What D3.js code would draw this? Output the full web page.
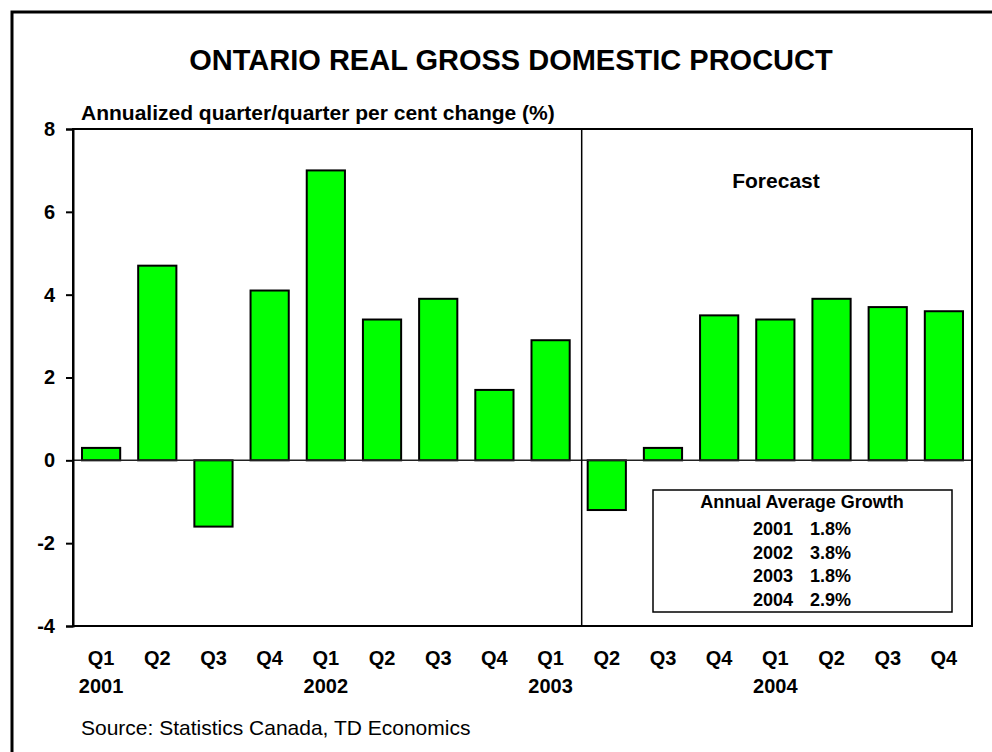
<!DOCTYPE html>
<html><head><meta charset="utf-8">
<script src="https://cdn.jsdelivr.net/npm/d3@7"></script>
<style>
html,body{margin:0;padding:0;background:#fff;}
svg text{font-family:"Liberation Sans",Arial,sans-serif;fill:#000;}
</style></head>
<body>
<svg id="chart" width="992" height="752"></svg>
<script>
const categories = ["Q1","Q2","Q3","Q4","Q1","Q2","Q3","Q4","Q1","Q2","Q3","Q4","Q1","Q2","Q3","Q4"];
const years = ["2001","","","","2002","","","","2003","","","","2004","","",""];
const values = [0.3,4.7,-1.6,4.1,7.0,3.4,3.9,1.7,2.9,-1.2,0.3,3.5,3.4,3.9,3.7,3.6];
const yTicks = [-4,-2,0,2,4,6,8];
const annualYears = ["2001","2002","2003","2004"];
const annualGrowth = ["1.8%","3.8%","1.8%","2.9%"];
const forecastStart = 9;

const svg = d3.select("#chart");
const margin = {left:73, top:129, right:972, bottom:626};

// outer frame
svg.append("rect").attr("x",12).attr("y",12).attr("width",1000).attr("height",800)
  .attr("fill","none").attr("stroke","#000").attr("stroke-width",3);

const x = d3.scaleBand().domain(d3.range(categories.length))
  .range([margin.left, margin.right]).paddingInner(0.32).paddingOuter(0.16);
const y = d3.scaleLinear().domain([-4,8]).range([margin.bottom, margin.top]);

// title
svg.append("text").attr("x",511).attr("y",70).attr("text-anchor","middle")
  .style("font-size","29px").style("font-weight","bold").text("ONTARIO REAL GROSS DOMESTIC PROCUCT");
svg.append("text").attr("x",81).attr("y",120)
  .style("font-size","21px").style("font-weight","bold").text("Annualized quarter/quarter per cent change (%)");

// bars
svg.append("g").selectAll("rect").data(values).join("rect")
  .attr("x",(d,i)=>x(i))
  .attr("width",x.bandwidth())
  .attr("y",d=>y(Math.max(0,d)))
  .attr("height",d=>Math.abs(y(d)-y(0)))
  .attr("fill","#00ff00").attr("stroke","#000").attr("stroke-width",2);

// zero line
svg.append("line").attr("x1",margin.left).attr("x2",margin.right)
  .attr("y1",y(0)).attr("y2",y(0)).attr("stroke","#222").attr("stroke-width",1.5);

// separator
const sepX = margin.left + x.step()*forecastStart + 3;
svg.append("line").attr("x1",sepX).attr("x2",sepX).attr("y1",margin.top).attr("y2",margin.bottom)
  .attr("stroke","#000").attr("stroke-width",1.5);

// plot frame
svg.append("rect").attr("x",margin.left).attr("y",margin.top)
  .attr("width",margin.right-margin.left).attr("height",margin.bottom-margin.top)
  .attr("fill","none").attr("stroke","#000").attr("stroke-width",2);

// y axis
const yAxis = d3.axisLeft(y).tickValues(yTicks).tickSize(7).tickPadding(11).tickFormat(d3.format("d"));
const ya = svg.append("g").attr("transform",`translate(${margin.left},0)`).call(yAxis);
ya.select(".domain").attr("stroke","#000").attr("stroke-width",2);
ya.selectAll(".tick line").attr("stroke","#000").attr("stroke-width",2);
ya.selectAll(".tick text").style("font-size","20px").style("font-weight","bold")
  .style("font-family","'Liberation Sans',Arial,sans-serif").attr("fill","#000")
  .text(d=> d<0 ? "-"+Math.abs(d) : d);

// x labels
const xl = svg.append("g");
xl.selectAll("text.q").data(categories).join("text").attr("class","q")
  .attr("x",(d,i)=>x(i)+x.bandwidth()/2).attr("y",665).attr("text-anchor","middle")
  .style("font-size","20px").style("font-weight","bold").text(d=>d);
xl.selectAll("text.yr").data(years).join("text").attr("class","yr")
  .attr("x",(d,i)=>x(i)+x.bandwidth()/2).attr("y",693).attr("text-anchor","middle")
  .style("font-size","20px").style("font-weight","bold").text(d=>d);

// forecast label
svg.append("text").attr("x",776).attr("y",188).attr("text-anchor","middle")
  .style("font-size","21px").style("font-weight","bold").text("Forecast");

// annual box
svg.append("rect").attr("x",653).attr("y",490).attr("width",299).attr("height",122)
  .attr("fill","#fff").attr("stroke","#000").attr("stroke-width",1.5);
svg.append("text").attr("x",802).attr("y",508).attr("text-anchor","middle")
  .style("font-size","18px").style("font-weight","bold").text("Annual Average Growth");
const rows = svg.append("g");
rows.selectAll("text.ay").data(annualYears).join("text").attr("class","ay")
  .attr("x",793).attr("y",(d,i)=>535+i*23.7).attr("text-anchor","end")
  .style("font-size","18px").style("font-weight","bold").text(d=>d);
rows.selectAll("text.ag").data(annualGrowth).join("text").attr("class","ag")
  .attr("x",810).attr("y",(d,i)=>535+i*23.7)
  .style("font-size","18px").style("font-weight","bold").text(d=>d);

// source
svg.append("text").attr("x",81).attr("y",735)
  .style("font-size","21px").text("Source: Statistics Canada, TD Economics");
</script>
</body></html>
